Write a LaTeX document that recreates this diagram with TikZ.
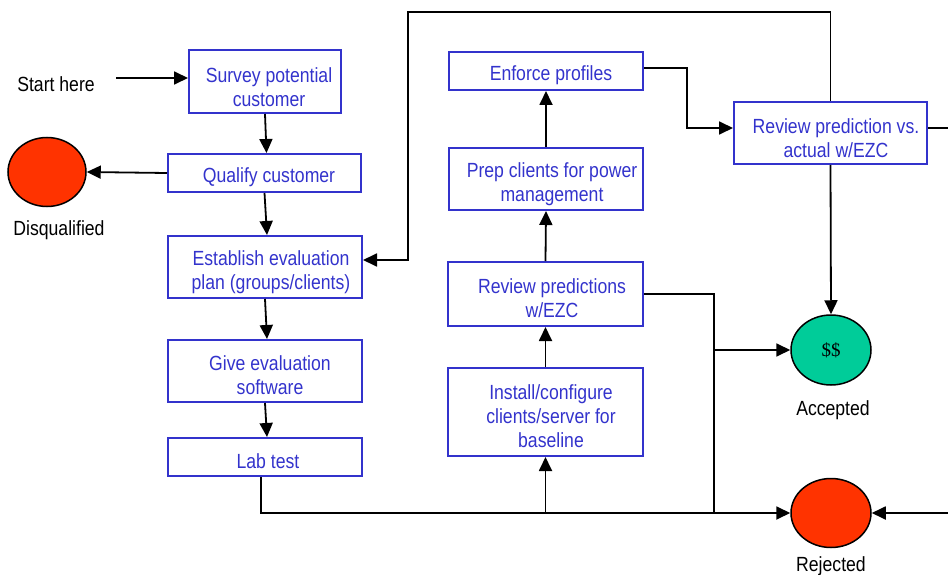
\documentclass[tikz,border=0pt]{standalone}
\usepackage{fontspec}
\setmainfont{Liberation Sans}[FakeStretch=0.86]
\newfontfamily\dollarfont{Liberation Serif}
\usetikzlibrary{shapes.geometric,arrows.meta}
\definecolor{boxblue}{RGB}{51,51,204}
\definecolor{ovred}{RGB}{255,51,0}
\definecolor{ovgreen}{RGB}{0,204,153}
\tikzset{
  stepbox/.style={draw=boxblue, line width=2pt, inner sep=0pt},
  boxtxt/.style={text=boxblue, align=center, inner sep=0pt, font=\fontsize{20.5}{24}\selectfont},
  oval/.style={ellipse, draw=black, line width=1.5pt, minimum width=80pt, minimum height=70pt, inner sep=0pt},
  lbl/.style={font=\fontsize{20.5}{24}\selectfont, text=black},
  conn/.style={line width=1.8pt, black},
  arr/.style={conn, -{Triangle[length=14pt,width=13pt]}}
}
\begin{document}
\begin{tikzpicture}[x=1pt,y=-1pt]
\useasboundingbox (0,0) rectangle (948,575);
% boxes
\node[stepbox, minimum width=152pt, minimum height=63pt] (survey) at (265,81.5) {};
\node[stepbox, minimum width=193pt, minimum height=38pt] (qualify) at (264.5,173) {};
\node[stepbox, minimum width=194pt, minimum height=62pt] (establish) at (265,267) {};
\node[stepbox, minimum width=194pt, minimum height=62pt] (give) at (265,371) {};
\node[stepbox, minimum width=194pt, minimum height=38pt] (lab) at (265,457) {};
\node[stepbox, minimum width=194pt, minimum height=38pt] (enforce) at (546,71) {};
\node[stepbox, minimum width=194pt, minimum height=62pt] (prep) at (546,179) {};
\node[stepbox, minimum width=195pt, minimum height=64pt] (reviewp) at (545.5,294) {};
\node[stepbox, minimum width=195pt, minimum height=88pt] (install) at (545.5,412) {};
\node[stepbox, minimum width=193pt, minimum height=62pt] (reviewv) at (830.5,133) {};
% box texts
\node[boxtxt] (surveyt) at (269,87) {Survey potential\\customer};
\node[boxtxt] (qualifyt) at (269,177.5) {Qualify customer};
\node[boxtxt] (establisht) at (271,272) {Establish evaluation\\plan (groups/clients)};
\node[boxtxt] (givet) at (270,375) {Give evaluation\\software};
\node[boxtxt] (labt) at (268,461) {Lab test};
\node[boxtxt] (enforcet) at (551,75) {Enforce profiles};
\node[boxtxt] (prept) at (552,184) {Prep clients for power\\management};
\node[boxtxt] (reviewpt) at (552,298.5) {Review predictions\\w/EZC};
\node[boxtxt] (installt) at (551,416.5) {Install/configure\\clients/server for\\baseline};
\node[boxtxt] (reviewvt) at (836,138) {Review prediction vs.\\actual w/EZC};
% ovals
\node[oval, fill=ovred, minimum width=78pt, minimum height=69pt] (disq) at (47,172) {};
\node[oval, fill=ovgreen] (acc) at (831,350) {\dollarfont\fontsize{19}{22}\selectfont\$\$};
\node[oval, fill=ovred, minimum height=69pt] (rej) at (831,513) {};
% labels
\node[lbl] (start) at (56,84) {Start here};
\node[lbl] (disqlbl) at (59,230) {Disqualified};
\node[lbl] (acclbl) at (833,410) {Accepted};
\node[lbl] (rejlbl) at (831,566) {Rejected};
% coordinates
\coordinate (s0) at (116,78);
\coordinate (jx) at (714,0);
\coordinate (ex) at (687,0);
\coordinate (tl) at (408,12);
\coordinate (re) at (948,128);
\coordinate (rr) at (948,513);
\coordinate (rvin) at ([yshift=5pt]reviewv.west);
% connectors
\draw[arr] (s0) -- (s0 -| survey.west);
\draw[arr] (survey.south) -- ([xshift=2pt]qualify.north);
\draw[arr] (qualify.west) -- (disq.east);
\draw[arr] (qualify.south) -- ([xshift=2pt]establish.north);
\draw[arr] (establish.south) -- ([xshift=2pt]give.north);
\draw[arr] (give.south) -- ([xshift=2pt]lab.north);
\draw[arr] ([xshift=-4pt]lab.south) |- (rej.west);
\draw[arr] (install.south |- rej.west) -- (install.south);
\draw[arr] (install.north) -- (reviewp.south);
\draw[arr] (reviewp.north) -- (prep.south);
\draw[arr] (prep.north) -- (enforce.south);
\draw[arr] ([yshift=3pt]enforce.east) -| (ex |- rvin) -- (rvin);
\draw[conn] (reviewp.east) -| (jx |- rej.west);
\draw[arr] (jx |- acc.west) -- (acc.west);
\draw[arr] (reviewv.north) |- (tl) |- ([yshift=7pt]establish.east);
\draw[arr] (reviewv.south) -- (acc.north);
\draw[conn] ([yshift=5pt]reviewv.east) -- (re);
\draw[arr] (rr) -- (rej.east);
\end{tikzpicture}
\end{document}
